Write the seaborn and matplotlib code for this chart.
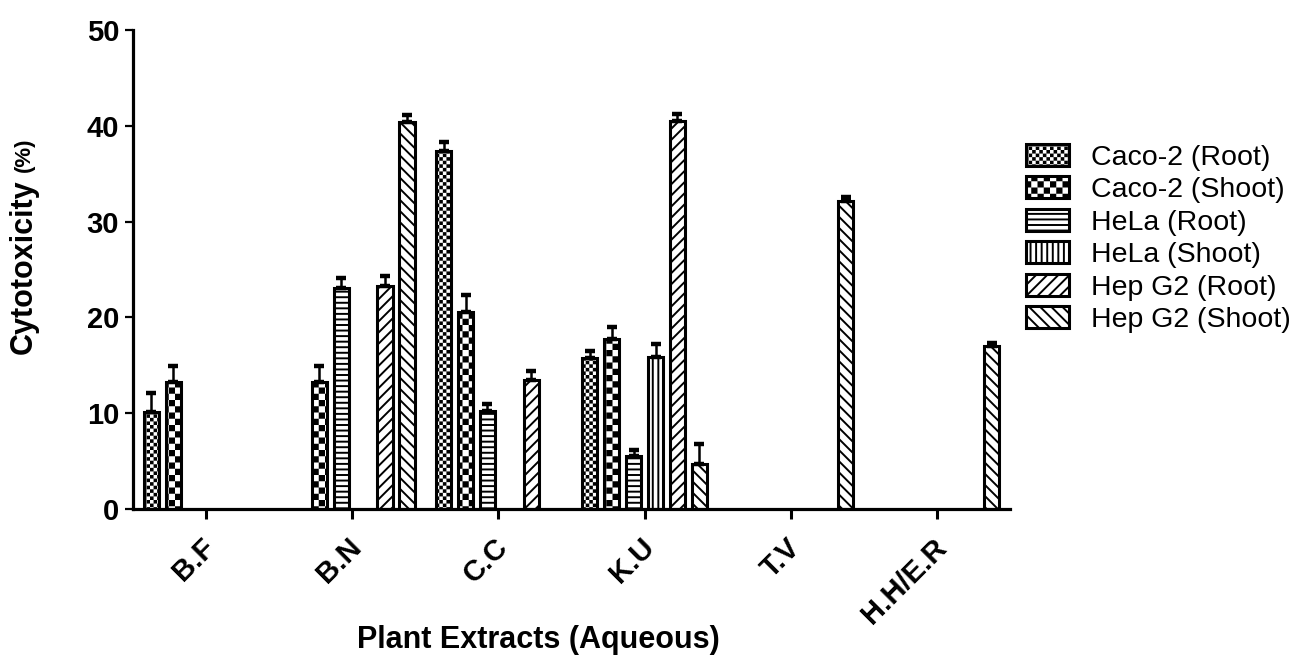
import numpy as np
import pandas as pd
import matplotlib
matplotlib.use("Agg")
import matplotlib.pyplot as plt
import matplotlib.hatch as mhatch
import matplotlib.transforms as mtrans
from matplotlib.path import Path
import seaborn as sns

# ---------------- data ----------------
extracts = ["B.F", "B.N", "C.C", "K.U", "T.V", "H.H/E.R"]
series = ["Caco-2 (Root)", "Caco-2 (Shoot)", "HeLa (Root)", "HeLa (Shoot)",
          "Hep G2 (Root)", "Hep G2 (Shoot)"]
nan = np.nan
caco2_root = [10.1, nan, 37.4, 15.8, nan, nan]
caco2_root_err = [2.0, nan, 0.9, 0.7, nan, nan]
caco2_shoot = [13.3, 13.3, 20.6, 17.7, nan, nan]
caco2_shoot_err = [1.6, 1.6, 1.7, 1.3, nan, nan]
hela_root = [nan, 23.1, 10.2, 5.5, nan, nan]
hela_root_err = [nan, 1.0, 0.8, 0.7, nan, nan]
hela_shoot = [nan, nan, nan, 15.9, nan, nan]
hela_shoot_err = [nan, nan, nan, 1.3, nan, nan]
hepg2_root = [nan, 23.3, 13.5, 40.5, nan, nan]
hepg2_root_err = [nan, 1.0, 0.9, 0.7, nan, nan]
hepg2_shoot = [nan, 40.4, nan, 4.7, 32.2, 17.0]
hepg2_shoot_err = [nan, 0.7, nan, 2.1, 0.4, 0.3]

values = [caco2_root, caco2_shoot, hela_root, hela_shoot, hepg2_root, hepg2_shoot]
errors = [caco2_root_err, caco2_shoot_err, hela_root_err, hela_shoot_err,
          hepg2_root_err, hepg2_shoot_err]
hatches = ["o", "O", "---", "|||", "///", "\\\\\\"]

rows = []
for s, vals, errs in zip(series, values, errors):
    for e, v, er in zip(extracts, vals, errs):
        if not np.isnan(v):
            rows.append({"extract": e, "series": s, "value": v, "err": er})
df = pd.DataFrame(rows)

# ---------------- style ----------------
sns.set_style("ticks")
plt.rcParams["font.family"] = ["Liberation Sans", "DejaVu Sans"]
plt.rcParams["hatch.linewidth"] = 1.4
plt.rcParams["hatch.color"] = "black"
plt.rcParams["text.color"] = "black"
plt.rcParams["axes.labelcolor"] = "black"
plt.rcParams["axes.edgecolor"] = "black"
plt.rcParams["xtick.color"] = "black"
plt.rcParams["ytick.color"] = "black"


# custom checkerboard hatches ('o' fine, 'O' coarse)
class _Checker(mhatch.HatchPatternBase):
    char = "o"
    cells = 28

    def __init__(self, hatch, density):
        self.num_vertices = 0
        if hatch is not None and hatch.count(self.char):
            self.num_vertices = (self.cells * self.cells // 2) * 5

    def set_vertices_and_codes(self, vertices, codes):
        n = self.cells
        s = 1.0 / n
        inset = plt.rcParams["hatch.linewidth"] / 72.0 / 2.0
        k = 0
        for i in range(n):
            for j in range(n):
                if (i + j) % 2 == 0:
                    x0, y0 = i * s + inset, j * s + inset
                    x1, y1 = (i + 1) * s - inset, (j + 1) * s - inset
                    vertices[k:k + 5] = [(x0, y0), (x1, y0), (x1, y1), (x0, y1), (x0, y0)]
                    codes[k] = Path.MOVETO
                    codes[k + 1:k + 4] = Path.LINETO
                    codes[k + 4] = Path.CLOSEPOLY
                    k += 5


class FineChecker(_Checker):
    char = "o"
    cells = 28


class CoarseChecker(_Checker):
    char = "O"
    cells = 16


mhatch._hatch_types = [h for h in mhatch._hatch_types
                       if h not in (mhatch.SmallCircles, mhatch.LargeCircles)]
mhatch._hatch_types += [FineChecker, CoarseChecker]

# ---------------- figure ----------------
W, H = 1307, 664
fig = plt.figure(figsize=(W / 100, H / 100), dpi=100)
ax = fig.add_axes([133 / W, 1 - 509 / H, (1010 - 133) / W, (509 - 30) / H])

group_width = 0.9
sns.barplot(data=df, x="extract", y="value", hue="series",
            order=extracts, hue_order=series, palette=["white"] * 6,
            saturation=1, edgecolor="black", linewidth=2.2,
            width=group_width, gap=0.3, errorbar=None, legend=False, ax=ax)

slot = group_width / len(series)
first_patch = {}
err_x = {i: [] for i in range(len(series))}
err_y = {i: [] for i in range(len(series))}
err_e = {i: [] for i in range(len(series))}
for p in ax.patches:
    xc = p.get_x() + p.get_width() / 2
    gi = int(round(xc))
    hi = int(np.floor((xc - gi + group_width / 2) / slot))
    hi = min(max(hi, 0), len(series) - 1)
    p.set_hatch(hatches[hi])
    p.set_edgecolor("black")
    p.set_linewidth(2.2)
    first_patch.setdefault(hi, p)
    err_x[hi].append(xc)
    err_y[hi].append(p.get_height())
    err_e[hi].append(errors[hi][gi])

for hi in range(len(series)):
    if err_x[hi]:
        e = np.array(err_e[hi])
        ax.errorbar(err_x[hi], err_y[hi], yerr=[np.zeros_like(e), e], fmt="none",
                    ecolor="black", elinewidth=1.8, capsize=3.5, capthick=3.2,
                    zorder=5)

ax.set_xlim(-0.5, 5.5)
ax.set_ylim(0, 50)
ax.set_yticks([0, 10, 20, 30, 40, 50])
for sp in ["top", "right"]:
    ax.spines[sp].set_visible(False)
for sp in ["left", "bottom"]:
    ax.spines[sp].set_linewidth(2.3)
    ax.spines[sp].set_color("black")

ax.tick_params(axis="y", length=6, width=1.6, pad=4, labelsize=21, colors="black")
ax.tick_params(axis="x", length=7.5, width=2.2, pad=17, labelsize=21, colors="black")
for lab in ax.get_yticklabels():
    lab.set_fontweight("bold")
ax.set_xticks(range(len(extracts)))
ax.set_xticklabels(extracts, rotation=45, ha="right", va="center",
                   rotation_mode="anchor", fontweight="bold")
shift = mtrans.ScaledTranslation(5 / 100, 0, fig.dpi_scale_trans)
for lab in ax.get_xticklabels():
    lab.set_transform(lab.get_transform() + shift)

ax.set_xlabel("Plant Extracts (Aqueous)", fontsize=22, fontweight="bold",
              color="black")
ax.xaxis.label.set_va("center")
ax.xaxis.set_label_coords((538 - 133) / 877, (509 - 640) / 479)
ax.set_ylabel("")

fig.text(24 / W, 1 - 267 / H, "Cytotoxicity", rotation=90, fontsize=22,
         fontweight="bold", ha="center", va="center", color="black")
fig.text(24 / W, 1 - 155 / H, "(%)", rotation=90, fontsize=16,
         fontweight="bold", ha="center", va="center", color="black")

handles = [first_patch[i] for i in range(len(series))]
fig.legend(handles, series, loc="upper left",
           bbox_to_anchor=(1026 / W, 1 - 144 / H), frameon=False,
           fontsize=20.5, borderpad=0, borderaxespad=0, labelspacing=0.2,
           handlelength=1.5, handleheight=0.8, handletextpad=0.8,
           labelcolor="black")

fig.savefig("out.png", dpi=100)
